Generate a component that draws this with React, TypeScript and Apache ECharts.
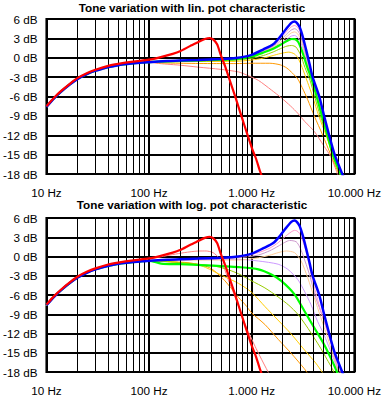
import React, { useEffect, useRef } from "react";
import * as echarts from "echarts";

type P = [number, number];

const titles = ["Tone variation with lin. pot characteristic", "Tone variation with log. pot characteristic"];
const xTickLabels = ["10 Hz", "100 Hz", "1.000 Hz", "10.000 Hz"];
const minorFreqs = [20, 30, 40, 50, 60, 70, 80, 90, 200, 300, 400, 500, 600, 700, 800, 900, 2000, 3000, 4000, 5000, 6000, 7000, 8000, 9000];

// shared low-frequency part
const lowPts: P[] = [[10, -7.6], [12, -6.2], [14, -5.2], [17, -4.1], [20, -3.3], [25, -2.5], [30, -2.0], [35, -1.7], [40, -1.45], [50, -1.15], [60, -0.98], [70, -0.87], [85, -0.75], [100, -0.68]];

const redPts: P[] = [[10, -7.5], [12, -6.1], [14, -5.1], [17, -4.0], [20, -3.15], [25, -2.35], [30, -1.85], [40, -1.25], [50, -0.95], [70, -0.6], [100, -0.3], [130, 0.1], [170, 0.6], [200, 1.0], [250, 1.8], [300, 2.4], [350, 2.9], [390, 3.05], [420, 2.85], [460, 2.1], [500, 0.4], [550, -1.3], [600, -3.1], [700, -6.3], [800, -9.2], [900, -11.7], [1000, -13.9], [1100, -15.6], [1200, -17.5], [1300, -19]];
const blueHi: P[] = [[150, -0.5], [200, -0.42], [300, -0.33], [500, -0.2], [700, -0.05], [1000, 0.45], [1300, 1.3], [1620, 2.1], [1880, 3.2], [2170, 4.5], [2430, 5.4], [2620, 5.6], [2750, 5.4], [2930, 4.75], [3150, 3.2], [3380, 1.3], [3650, -0.9], [3920, -3], [4550, -6], [5070, -9], [5680, -12], [6430, -15], [7620, -18], [8100, -19]];

// top panel (lin. pot)
const pinkTop: P[] = [[150, -0.52], [300, -0.36], [700, -0.1], [1000, 0.4], [1300, 1.2], [1620, 1.95], [1880, 2.9], [2170, 4.0], [2430, 4.8], [2620, 5.0], [2800, 4.7], [2930, 4.2], [3150, 2.7], [3380, 0.9], [3650, -1.2], [3920, -3.2], [4520, -6.1], [5040, -9.1], [5650, -12.1], [6400, -15.1], [7580, -18.1], [8000, -19]];
const plumTop: P[] = [[150, -0.54], [300, -0.38], [700, -0.13], [1000, 0.35], [1300, 1.1], [1620, 1.8], [1880, 2.6], [2170, 3.6], [2430, 4.3], [2620, 4.5], [2800, 4.2], [2930, 3.7], [3150, 2.3], [3380, 0.5], [3650, -1.5], [3920, -3.4], [4500, -6.2], [5020, -9.2], [5620, -12.2], [6370, -15.2], [7540, -18.2], [8000, -19]];
const peachTop: P[] = [[150, -0.56], [300, -0.4], [700, -0.16], [1000, 0.3], [1300, 1.0], [1620, 1.65], [1880, 2.3], [2170, 3.2], [2430, 3.85], [2620, 4.0], [2800, 3.7], [2930, 3.2], [3150, 1.9], [3380, 0.2], [3650, -1.8], [3920, -3.6], [4480, -6.3], [5000, -9.3], [5600, -12.3], [6340, -15.3], [7500, -18.3], [8000, -19]];
const violetTop: P[] = [[150, -0.57], [300, -0.41], [700, -0.18], [1000, 0.25], [1300, 0.9], [1620, 1.5], [1880, 2.05], [2170, 2.8], [2430, 3.35], [2620, 3.45], [2800, 3.15], [2930, 2.7], [3150, 1.5], [3380, -0.1], [3650, -2.0], [3920, -3.8], [4450, -6.4], [4980, -9.4], [5570, -12.4], [6300, -15.4], [7450, -18.4], [8000, -19]];
const greenTop: P[] = [[150, -0.55], [300, -0.42], [700, -0.2], [1000, 0.2], [1300, 0.8], [1620, 1.4], [1900, 2.0], [2200, 2.6], [2450, 2.9], [2650, 2.85], [2850, 2.4], [3030, 1.4], [3250, 0], [3500, -1.6], [3780, -3], [4290, -6], [4830, -9], [5470, -12], [6160, -15], [7340, -18], [7800, -19]];
const oliveTop: P[] = [[150, -0.6], [300, -0.5], [700, -0.35], [1000, -0.1], [1300, 0.35], [1620, 0.9], [1900, 1.4], [2200, 1.8], [2450, 1.9], [2700, 1.65], [3000, 0.4], [3300, -1.5], [3700, -3.5], [4100, -6], [4650, -9], [5380, -12], [6100, -15], [7200, -18], [7500, -18.6]];
const goldTop: P[] = [[150, -0.62], [300, -0.58], [700, -0.55], [1000, -0.35], [1300, -0.05], [1620, 0.35], [1900, 0.65], [2300, 0.87], [2600, 0.6], [2813, 0.0], [3100, -1.5], [3500, -3.8], [3920, -6], [4500, -9], [5300, -12], [6200, -15], [7340, -18], [7600, -18.5]];
const orangeTop: P[] = [[130, -0.8], [200, -0.85], [400, -0.9], [700, -0.9], [1000, -0.85], [1500, -0.85], [1900, -1.1], [2200, -1.6], [2500, -2.4], [2813, -3.3], [3100, -4.6], [3510, -6.5], [4066, -9], [4920, -12], [5880, -15], [7070, -18], [7500, -18.7]];
const salmonTop: P[] = [[117, -0.84], [150, -1.0], [200, -1.15], [300, -1.45], [500, -1.8], [745, -2.2], [900, -2.7], [1160, -3.5], [1556, -5.0], [1940, -6.2], [2400, -7.5], [2813, -8.6], [3300, -9.9], [4066, -11.4], [5070, -13.7], [5880, -15.3], [6500, -17], [6900, -18.2], [7100, -18.8]];

// bottom panel (log. pot)
const pinkBot: P[] = [[150, -0.55], [300, -0.38], [745, -0.1], [1160, 0.6], [1500, 1.3], [1808, 2.15], [2250, 3.45], [2612, 4.07], [2750, 4.0], [2930, 3.6], [3150, 2.4], [3380, 0.86], [3650, -1.5], [3920, -3.8], [4300, -6.2], [4710, -8.5], [5680, -12.6], [6800, -16.8], [7300, -18], [7600, -18.7]];
const plumBot: P[] = [[150, -0.58], [300, -0.45], [745, -0.2], [1160, 0.23], [1500, 0.9], [1808, 1.6], [2100, 2.2], [2340, 2.5], [2710, 2.3], [2930, 1.5], [3140, 0.33], [3650, -2.8], [4200, -6.4], [5070, -10], [6100, -14.2], [7070, -18.1], [7400, -18.8]];
const peachBot: P[] = [[150, -0.6], [300, -0.55], [745, -0.55], [1160, -0.2], [1500, 0.2], [1808, 0.6], [2170, 0.86], [2612, 0.6], [3029, -0.7], [3510, -3.3], [4066, -6.4], [4710, -9.5], [5470, -12.6], [6340, -15.8], [7070, -18.1], [7400, -18.8]];
const violetBot: P[] = [[150, -0.62], [300, -0.5], [745, -0.45], [1160, -0.7], [1808, -1.2], [2250, -2.0], [2813, -3.6], [3260, -5.4], [3780, -7.5], [4380, -10.1], [5070, -12.2], [5880, -14.8], [6800, -17.4], [7000, -18], [7300, -18.6]];
const greenBot: P[] = [[131, -1.1], [200, -1.2], [355, -1.37], [500, -1.5], [745, -1.65], [1160, -2.0], [1556, -2.8], [1940, -3.8], [2612, -5.9], [3260, -8.5], [4066, -11.1], [5070, -13.7], [6340, -16.9], [6800, -18.1], [7000, -18.5]];
const oliveBot: P[] = [[150, -0.8], [300, -1.2], [450, -1.55], [600, -2.1], [745, -2.7], [1000, -3.8], [1345, -4.9], [1808, -6.3], [2300, -7.6], [2813, -9.0], [3400, -10.8], [4066, -12.7], [4700, -14.3], [5400, -16.0], [6100, -17.5], [6400, -18.2], [6600, -18.6]];
const goldBot: P[] = [[150, -0.8], [283, -1.2], [355, -1.7], [520, -3.0], [745, -4.2], [1000, -5.6], [1345, -7.8], [1800, -9.9], [2400, -12], [3200, -14.4], [4200, -16.6], [4900, -18.1], [5100, -18.5]];
const orangeBot: P[] = [[150, -0.8], [250, -1.0], [390, -1.75], [520, -3.4], [650, -5.2], [745, -6.4], [864, -7.5], [1000, -8.8], [1345, -10.6], [1808, -12.9], [2428, -15.1], [3260, -17.5], [3500, -18.2]];
const salmonBot: P[] = [[130, -0.05], [170, 0.3], [220, 0.6], [300, 0.85], [360, 0.86], [420, 0.6], [478, -0.2], [530, -1.5], [597, -3.8], [692, -6.4], [864, -10.6], [1078, -14.0], [1200, -15.5], [1445, -18], [1550, -18.8]];

const C = {
  red: "#ff0000", salmon: "#ff8080", orange: "#ff9900", gold: "#ffcc00", olive: "#99cc00",
  green: "#00ff00", violet: "#cc99ff", peach: "#ffcc99", plum: "#cc99cc", pink: "#ff99cc", blue: "#0000ff",
};

const FONT = "Liberation Sans, Arial, sans-serif";

function line(idx: number, data: P[], color: string, width: number, z: number) {
  return {
    type: "line", xAxisIndex: idx, yAxisIndex: idx, data, showSymbol: false, symbol: "none",
    smooth: 0.25, lineStyle: { color, width }, z, silent: true, clip: true,
  };
}

function gridLines(idx: number) {
  return {
    type: "line", xAxisIndex: idx, yAxisIndex: idx, data: [[1000, -30]], showSymbol: false,
    lineStyle: { opacity: 0 }, z: 1, silent: true,
    markLine: {
      symbol: ["none", "none"], silent: true, label: { show: false },
      lineStyle: { color: "#000", width: 1, type: "solid" },
      data: minorFreqs.map((f) => ({ xAxis: f })),
    },
  };
}

export default function App() {
  const ref = useRef<HTMLDivElement>(null);
  useEffect(() => {
    const chart = echarts.init(ref.current!, undefined, { renderer: "svg" });
    const low = (extra: P[]): P[] => lowPts.concat(extra);
    const redLow = redPts.filter((p) => p[0] <= 100);
    const grids = [
      { left: 45, top: 19, width: 311, height: 155 },
      { left: 45, top: 218, width: 311, height: 154 },
    ].map((g) => ({ ...g, show: true, borderColor: "#000", borderWidth: 2, backgroundColor: "#fff" }));
    const xAxes = [0, 1].map((i) => ({
      type: "log", logBase: 10, min: 10, max: 10000, splitNumber: 3, gridIndex: i,
      axisLine: { show: false }, axisTick: { show: false },
      splitLine: { show: true, lineStyle: { color: "#000", width: 2 } },
      axisLabel: {
        color: "#000", fontSize: 11.7, lineHeight: 12, fontFamily: FONT, margin: 12,
        showMinLabel: true, showMaxLabel: true,
        formatter: (v: number) => xTickLabels[Math.round(Math.log10(v)) - 1] ?? "",
      },
    }));
    const yAxes = [0, 1].map((i) => ({
      type: "value", min: -18, max: 6, interval: 3, gridIndex: i,
      axisLine: { show: false }, axisTick: { show: false },
      splitLine: { show: true, lineStyle: { color: "#000", width: 2 } },
      axisLabel: { color: "#000", fontSize: 11.7, lineHeight: 12, fontFamily: FONT, margin: 9, formatter: "{value} dB" },
    }));
    const series: any[] = [
      gridLines(0), gridLines(1),
      line(0, low(salmonTop), C.salmon, 1, 3),
      line(0, low(orangeTop), C.orange, 1, 3),
      line(0, low(goldTop), C.gold, 1, 3),
      line(0, low(oliveTop), C.olive, 1, 3),
      line(0, low(violetTop), C.violet, 1, 3),
      line(0, low(peachTop), C.peach, 1, 3),
      line(0, low(plumTop), C.plum, 1, 3),
      line(0, low(pinkTop), C.pink, 1, 3),
      line(0, low(greenTop), C.green, 2.2, 4),
      line(0, low(blueHi), C.blue, 2.5, 5),
      line(0, redPts, C.red, 2.2, 6),
      line(1, redLow.concat(salmonBot), C.salmon, 1, 3),
      line(1, low(orangeBot), C.orange, 1, 3),
      line(1, low(goldBot), C.gold, 1, 3),
      line(1, low(oliveBot), C.olive, 1, 3),
      line(1, low(violetBot), C.violet, 1, 3),
      line(1, low(peachBot), C.peach, 1, 3),
      line(1, low(plumBot), C.plum, 1, 3),
      line(1, low(pinkBot), C.pink, 1, 3),
      line(1, low(greenBot), C.green, 2.2, 4),
      line(1, low(blueHi), C.blue, 2.5, 5),
      line(1, redPts, C.red, 2.2, 6),
    ];
    chart.setOption({
      animation: false,
      backgroundColor: "#fff",
      title: [
        { text: titles[0], left: "center", top: 1, padding: 0, textStyle: { fontSize: 11.7, lineHeight: 12, fontWeight: "bold", color: "#000", fontFamily: FONT } },
        { text: titles[1], left: "center", top: 198, padding: 0, textStyle: { fontSize: 11.7, lineHeight: 12, fontWeight: "bold", color: "#000", fontFamily: FONT } },
      ],
      grid: grids,
      xAxis: xAxes,
      yAxis: yAxes,
      series,
    });
    return () => chart.dispose();
  }, []);
  return <div ref={ref} style={{ position: "fixed", left: 0, top: 0, width: 384, height: 398 }} />;
}
